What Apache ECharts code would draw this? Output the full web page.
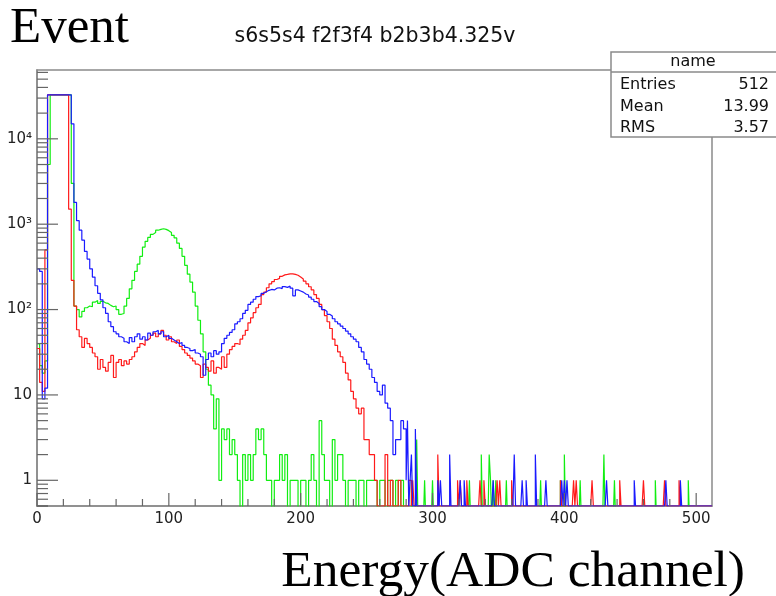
<!DOCTYPE html>
<html>
<head>
<meta charset="utf-8">
<script src="https://cdn.jsdelivr.net/npm/echarts@6/dist/echarts.min.js"></script>
<style>html,body{margin:0;padding:0;background:#fff;}#c{width:776px;height:596px;}</style>
</head>
<body>
<div id="c"></div>
<script>
// ---- data (histogram counts) ----
// Dense part: bins of width 2 starting at channel 0 (index i covers channels 2i..2i+1), up to channel 280
const denseBinWidth = 2;
const denseEnd = 280;
const xMax = 512;

const blueCounts = [300,280,9,12,32768,32768,32768,32768,32768,32768,32768,32768,32768,15000,
1800,1100,850,650,480,390,300,240,190,155,130,105,90,72,63,55,52,48,46,42,40,47,42,48,52,45,
48,44,53,50,55,57,52,55,48,50,46,44,42,40,41,38,36,35,33,34,31,30,28,17,26,31,28,33,30,32,
40,46,50,54,58,68,72,78,90,98,115,122,132,142,145,155,162,168,172,170,178,180,176,186,182,188,
178,145,170,165,160,152,148,140,132,124,118,108,100,95,88,84,78,72,68,64,60,56,52,48,45,42,
36,32,26,23,20,16,14,11,10,13,8,7,5,2,3,3,5,4];

const greenCounts = [40,22,18,25,5000,32768,32768,32768,32768,32768,32768,32768,32768,3000,
110,100,82,95,105,110,108,122,128,118,125,120,118,112,108,110,100,88,90,110,135,175,220,280,340,420,
540,630,700,760,800,850,870,885,870,840,800,740,690,600,520,420,330,260,210,160,110,75,52,32,20,13,
10,4,9,1,4,3,4,2,3,2,1,0,2,1,2,1,2,4,3,4,2,1,1,0,1,1,2,1,2,0,1,1,1,0,1,1,0,1,2,1,0,5,2,1,1,0,3,1,2,2,
1,0,1,1,1,0,1,1,0,1,1,1,1,0,1,1,0,1,1,0,1,0,1,0];

const redCounts = [35,14,11,500,32768,32768,32768,32768,32768,32768,32768,32768,1500,220,
110,58,48,36,46,40,36,31,28,20,26,21,19,24,29,16,24,26,22,25,23,26,28,32,36,40,38,44,46,50,53,48,
52,57,50,44,48,42,40,44,37,34,31,29,27,25,23,22,16,23,21,19,25,18,21,20,28,21,30,34,37,40,39,45,50,57,
70,80,92,105,115,150,160,180,200,212,225,232,245,255,258,262,262,258,252,240,228,215,200,185,170,150,
135,115,100,85,72,60,45,38,32,28,24,18,15,11,9,7,6,7,3,3,2,2,1,0,0,0,2,0,1,0,0,1,0,0];

// Sparse tail: [channel, count] for channels >= 280 (width-1 bins, others empty)
const blueTail = [[280,1],[281,5],[283,1],[284,2],[287,4],[304,1],[306,1],[313,2],[321,1],[324,1],
[346,1],[362,2],[368,1],[371,1],[378,2],[386,1],[398,1],[400,1],[402,1],[432,1],[453,1],[477,1],[488,1]];
const greenTail = [[284,1],[288,3],[294,1],[300,1],[328,1],[337,2],[343,2],[344,1],[346,1],[348,1],
[356,1],[382,1],[397,1],[400,2],[412,1],[430,2],[438,1],[469,1],[494,1]];
const redTail = [[282,1],[283,1],[285,1],[304,2],[319,1],[321,1],[326,1],[336,1],[339,1],[349,1],[351,1],
[360,1],[397,1],[407,1],[409,1],[421,1],[442,1],[460,1],[476,1],[487,1]];

// axes
const yMin = 0.5, yMax = 64000;
const xTickLabels = [0,100,200,300,400,500];
const xMinorStep = 20;
const yMajorTicks = [1,10,100,1000,10000];
const yTickLabels = ['1','10','10\u00b2','10\u00b3','10\u2074'];

// stats box
const statsTitle = 'name';
const statsRows = [['Entries','512'],['Mean','13.99'],['RMS','3.57']];
const titleText = 's6s5s4 f2f3f4 b2b3b4.325v';

// ---- build ----
// empty bins: drawn along the frame floor (red/blue, as ROOT "same" overlays) or hidden below it (green)
function steps(dense, tail, emptyLevel){
  const pts = [];
  dense.forEach((v,i)=>pts.push([i*denseBinWidth, v>0?v:emptyLevel]));
  const m = new Map(tail);
  let last = emptyLevel;
  for(let b=denseEnd;b<xMax;b++){ const v = m.get(b)||0; last = v>0?v:emptyLevel; pts.push([b,last]); }
  pts.push([xMax,last]);
  return pts;
}

const tickData = [];
yMajorTicks.forEach(v=>tickData.push([0,v,0]));
for(let d=-1; d<=4; d++){
  for(let k=2;k<=9;k++){
    const v = k*Math.pow(10,d);
    if(v>=yMin && v<=yMax) tickData.push([0,v,1]);
  }
}
tickData.push([0,yMin,1]);
xTickLabels.forEach(v=>tickData.push([v,yMin,2]));
for(let v=0; v<=500; v+=xMinorStep){ if(v%100!==0) tickData.push([v,yMin,3]); }

const yLabelData = yMajorTicks.map((v,i)=>[0,v,i]);

const sansFont = '"DejaVu Sans", sans-serif';
const serifFont = '"Liberation Serif", serif';

function histSeries(name, color, data, z){
  return {name, type:'line', step:'end', data, symbol:'none', clip:true, z,
    lineStyle:{color, width:1.2}, itemStyle:{color}, emphasis:{disabled:true}, silent:true};
}

const chart = echarts.init(document.getElementById('c'), null, {renderer:'canvas'});
const option = {
  animation:false,
  backgroundColor:'#ffffff',
  grid:{left:37, right:64, top:70, bottom:90, show:true, borderColor:'#8a8a8a', borderWidth:1.5, backgroundColor:'transparent'},
  xAxis:{type:'value', min:0, max:xMax, interval:100,
    axisLine:{show:true, onZero:false, lineStyle:{color:'#8a8a8a', width:1.5}},
    axisTick:{show:false}, splitLine:{show:false}, minorTick:{show:false},
    axisLabel:{customValues:xTickLabels, margin:6, fontFamily:sansFont, fontSize:15, color:'#222'}},
  yAxis:{type:'log', min:yMin, max:yMax,
    axisLine:{show:true, lineStyle:{color:'#8a8a8a', width:1.5}},
    axisTick:{show:false}, axisLabel:{show:false}, splitLine:{show:false}, minorTick:{show:false}},
  series:[
    histSeries('green','#11ee11',steps(greenCounts,greenTail,0.3),2),
    histSeries('red','#ff1a1a',steps(redCounts,redTail,yMin),3),
    histSeries('blue','#1a1aff',steps(blueCounts,blueTail,yMin),4),
    {type:'custom', coordinateSystem:'cartesian2d', silent:true, z:5, data:tickData,
      renderItem:function(params, api){
        const kind = api.value(2);
        const p = api.coord([api.value(0), api.value(1)]);
        let shape;
        if(kind===0) shape={x1:p[0],y1:p[1],x2:p[0]+21,y2:p[1]};
        else if(kind===1) shape={x1:p[0],y1:p[1],x2:p[0]+11,y2:p[1]};
        else if(kind===2) shape={x1:p[0],y1:p[1],x2:p[0],y2:p[1]-13};
        else shape={x1:p[0],y1:p[1],x2:p[0],y2:p[1]-7};
        return {type:'line', shape, style:{stroke:'#666', lineWidth:1.2}};
      }},
    {type:'custom', coordinateSystem:'cartesian2d', silent:true, z:5, data:yLabelData,
      renderItem:function(params, api){
        const p = api.coord([api.value(0), api.value(1)]);
        return {type:'text', x:p[0]-5, y:p[1],
          style:{text:yTickLabels[api.value(2)], align:'right', verticalAlign:'middle',
            fontFamily:sansFont, fontSize:15, fill:'#222'}};
      }}
  ],
  graphic:[
    {type:'text', x:10, y:29, z:10, style:{text:'Event', fontFamily:serifFont, fontSize:51, fill:'#000', verticalAlign:'middle'}},
    {type:'text', x:375, y:37, z:10, style:{text:titleText, fontFamily:sansFont, fontSize:20.5, fill:'#111', align:'center', verticalAlign:'middle'}},
    {type:'text', x:745, y:572, z:10, style:{text:'Energy(ADC channel)', fontFamily:serifFont, fontSize:51.5, fill:'#000', align:'right', verticalAlign:'middle'}},
    {type:'rect', z:20, shape:{x:611, y:52, width:175, height:85}, style:{fill:'#fff', stroke:'#8a8a8a', lineWidth:1.5}},
    {type:'line', z:21, shape:{x1:611, y1:72, x2:776, y2:72}, style:{stroke:'#8a8a8a', lineWidth:1.5}},
    {type:'text', z:21, x:693, y:62, style:{text:statsTitle, fontFamily:sansFont, fontSize:16, fill:'#111', align:'center', verticalAlign:'middle'}},
  ].concat(statsRows.flatMap((r,i)=>[
    {type:'text', z:21, x:620, y:85+i*21.5, style:{text:r[0], fontFamily:sansFont, fontSize:16, fill:'#111', align:'left', verticalAlign:'middle'}},
    {type:'text', z:21, x:769, y:85+i*21.5, style:{text:r[1], fontFamily:sansFont, fontSize:16, fill:'#111', align:'right', verticalAlign:'middle'}}
  ]))
};
chart.setOption(option);
</script>
</body>
</html>
